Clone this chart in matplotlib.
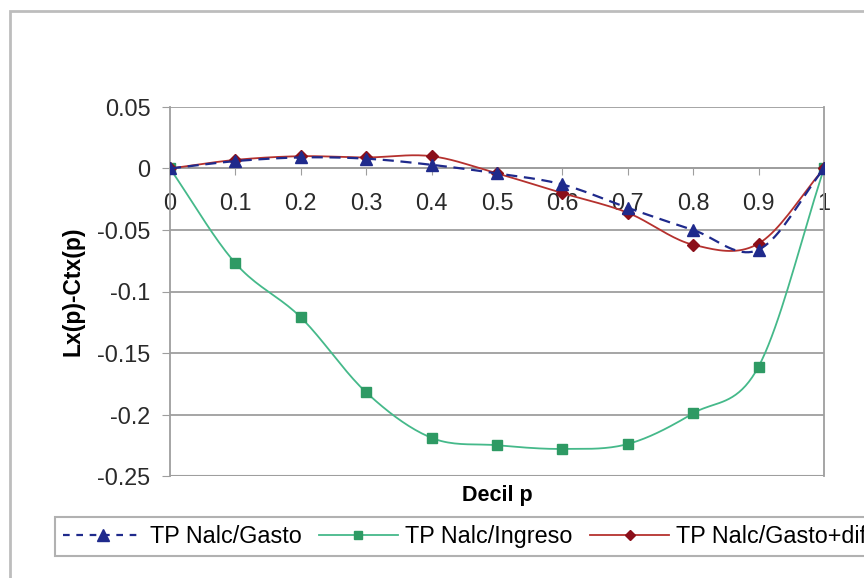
import numpy as np
import matplotlib
matplotlib.use("Agg")
import matplotlib.pyplot as plt
from matplotlib.patches import Rectangle
from matplotlib.lines import Line2D

plt.rcParams['font.family'] = ['Liberation Sans', 'DejaVu Sans']

deciles = [0, 0.1, 0.2, 0.3, 0.4, 0.5, 0.6, 0.7, 0.8, 0.9, 1.0]
gasto = [0, 0.006, 0.009, 0.008, 0.003, -0.004, -0.013, -0.032, -0.050, -0.066, 0]
ingreso = [0, -0.077, -0.121, -0.182, -0.219, -0.225, -0.228, -0.224, -0.199, -0.161, 0]
gasto_dif = [0, 0.007, 0.010, 0.009, 0.010, -0.004, -0.020, -0.036, -0.062, -0.061, 0]
labels = ["TP Nalc/Gasto", "TP Nalc/Ingreso", "TP Nalc/Gasto+dif"]
yticks = [0.05, 0, -0.05, -0.1, -0.15, -0.2, -0.25]
xticks = [0, 0.1, 0.2, 0.3, 0.4, 0.5, 0.6, 0.7, 0.8, 0.9, 1]


def smooth(x, y, n=20):
    x = np.asarray(x, float); y = np.asarray(y, float)
    px = np.concatenate([[2 * x[0] - x[1]], x, [2 * x[-1] - x[-2]]])
    py = np.concatenate([[2 * y[0] - y[1]], y, [2 * y[-1] - y[-2]]])
    xs, ys = [], []
    t = np.linspace(0, 1, n, endpoint=False)
    for i in range(1, len(px) - 2):
        p0, p1, p2, p3 = (np.array([px[j], py[j]]) for j in range(i - 1, i + 3))
        tt = t[:, None]
        pts = 0.5 * ((2 * p1) + (-p0 + p2) * tt + (2 * p0 - 5 * p1 + 4 * p2 - p3) * tt ** 2
                     + (-p0 + 3 * p1 - 3 * p2 + p3) * tt ** 3)
        xs.extend(pts[:, 0]); ys.extend(pts[:, 1])
    xs.append(x[-1]); ys.append(y[-1])
    return np.array(xs), np.array(ys)


fig = plt.figure(figsize=(8.64, 5.78), dpi=100)
fig.patches.append(Rectangle((10 / 864, -0.1), 1.2, (578 - 11) / 578 + 0.1,
                             transform=fig.transFigure, fill=False,
                             edgecolor='#BDBDBD', linewidth=2))

ax = fig.add_axes([170 / 864, (578 - 476) / 578, (824 - 170) / 864, (476 - 107) / 578])
ax.set_xlim(0, 1)
ax.set_ylim(-0.25, 0.05)

ax.set_yticks(yticks)
ax.set_yticklabels(["0.05", "0", "-0.05", "-0.1", "-0.15", "-0.2", "-0.25"])
ax.set_xticks(xticks)
ax.set_xticklabels(["0", "0.1", "0.2", "0.3", "0.4", "0.5", "0.6", "0.7", "0.8", "0.9", "1"])
ax.grid(axis='y', color='#9E9E9E', linewidth=1.3)
ax.set_axisbelow(True)

for s in ['left', 'right', 'top', 'bottom']:
    ax.spines[s].set_color('#9E9E9E')
    ax.spines[s].set_linewidth(1.3)
ax.spines['top'].set_visible(False)
ax.spines['bottom'].set_position(('data', 0))
ax.axhline(-0.25, color='#9E9E9E', linewidth=1.5, zorder=1)

ax.tick_params(axis='both', colors='#9E9E9E', labelcolor='#2A2A2A', labelsize=16.8)
ax.tick_params(axis='x', direction='out', pad=12, length=5)
ax.tick_params(axis='y', pad=8, length=6)

c_blue = '#1F2A8C'
c_green = '#45B98A'
c_green_m = '#2E9A64'
c_red = '#B5312E'
c_red_m = '#8B0F1A'

sx, sy = smooth(deciles, ingreso)
ax.plot(sx, sy, color=c_green, linewidth=1.3, zorder=3)
ax.plot(deciles, ingreso, linestyle='none', marker='s', markersize=6.5,
        color=c_green_m, zorder=4)

sx, sy = smooth(deciles, gasto_dif)
ax.plot(sx, sy, color=c_red, linewidth=1.3, zorder=5)
ax.plot(deciles, gasto_dif, linestyle='none', marker='D', markersize=6,
        color=c_red_m, zorder=6)

sx, sy = smooth(deciles, gasto)
ax.plot(sx, sy, color=c_blue, linewidth=1.6, dashes=(5, 3), zorder=7)
ax.plot(deciles, gasto, linestyle='none', marker='^', markersize=8,
        color=c_blue, zorder=8)

ax.set_ylabel("Lx(p)-Ctx(p)", fontsize=16.5, fontweight='bold', labelpad=9)
ax.text(0.5, -0.025, "Decil p", transform=ax.transAxes, ha='center', va='top',
        fontsize=15.5, fontweight='bold')

handles = [
    Line2D([], [], color=c_blue, linewidth=1.6, dashes=(3, 3), marker='^', markersize=8),
    Line2D([], [], color=c_green, linewidth=1.3, marker='s', markersize=6,
           markerfacecolor=c_green_m, markeredgecolor=c_green_m),
    Line2D([], [], color=c_red, linewidth=1.3, marker='D', markersize=5.5,
           markerfacecolor=c_red_m, markeredgecolor=c_red_m),
]
leg = fig.legend(handles, labels, loc='upper left', bbox_to_anchor=(55 / 864, (578 - 517) / 578),
                 ncol=3, fontsize=16.8, frameon=True, fancybox=False, handlelength=3.4,
                 columnspacing=0.75, handletextpad=0.3, borderpad=0.35, borderaxespad=0)
leg.get_frame().set_edgecolor('#9E9E9E')
leg.get_frame().set_linewidth(1.5)

fig.savefig("out.png", dpi=100)
